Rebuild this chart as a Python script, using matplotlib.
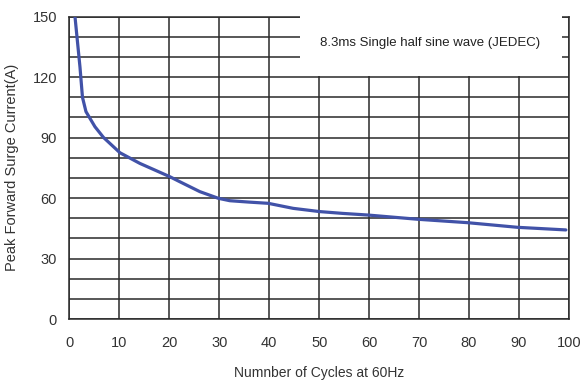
"""
Peak forward surge current vs number of cycles at 60Hz
"""
import matplotlib
matplotlib.use('Agg')
import matplotlib.pyplot as plt
from matplotlib.patches import Rectangle

plt.rcParams['font.family'] = ['Liberation Sans', 'DejaVu Sans']

# curve
cycles = [1.1, 2.1, 2.6, 3.3, 5.1, 6.8, 10.1, 14.1, 20.1, 22.1, 26.1, 29.8,
          32.1, 36.0, 39.8, 44.8, 50.1, 54.7, 59.7, 69.7, 79.7, 89.7, 99.4]
current = [150, 125, 110, 102.9, 95.4, 90.1, 82.5, 77.2, 70.6, 68.1, 63.2,
           59.9, 58.7, 58.0, 57.4, 54.9, 53.3, 52.4, 51.6, 49.5, 47.8, 45.5,
           44.2]

x_ticks = list(range(0, 101, 10))
y_ticks = [0, 30, 60, 90, 120, 150]
y_grid = list(range(0, 151, 10))
note = '8.3ms Single half sine wave (JEDEC)'

fig = plt.figure(figsize=(5.82, 3.81), dpi=100)
ax = fig.add_axes([0.1194, 0.1627, 0.858, 0.7935])

ax.plot(cycles, current, color='#4152a8', lw=2.3, solid_capstyle='round',
        zorder=3)

ax.set_xlim(0, 100)
ax.set_ylim(0, 150)
ax.set_xticks(x_ticks)
ax.set_yticks(y_ticks)
ax.set_yticks(y_grid, minor=True)
ax.tick_params(which='both', length=0, labelsize=10.5, colors='#333333')
ax.tick_params(axis='x', pad=12)
ax.tick_params(axis='y', pad=9)
ax.grid(True, which='both', color='#2a2a2a', lw=1.1)
for s in ax.spines.values():
    s.set_color('#2a2a2a')
    s.set_linewidth(1.1)

# white label box hiding the grid in the upper right
ax.add_patch(Rectangle((0.4615, 0.805), 0.525, 0.2, transform=ax.transAxes,
                       facecolor='white', edgecolor='none', zorder=4,
                       clip_on=False))
ax.text(0.723, 0.913, note, transform=ax.transAxes, ha='center', va='center',
        fontsize=9.5, color='#222222', zorder=5)

ax.set_xlabel('Numnber of Cycles at 60Hz', fontsize=10, color='#333333',
              labelpad=12)
ax.set_ylabel('Peak Forward Surge Current(A)', fontsize=10.5, color='#333333',
              labelpad=10)

fig.savefig('out.png', dpi=100)
